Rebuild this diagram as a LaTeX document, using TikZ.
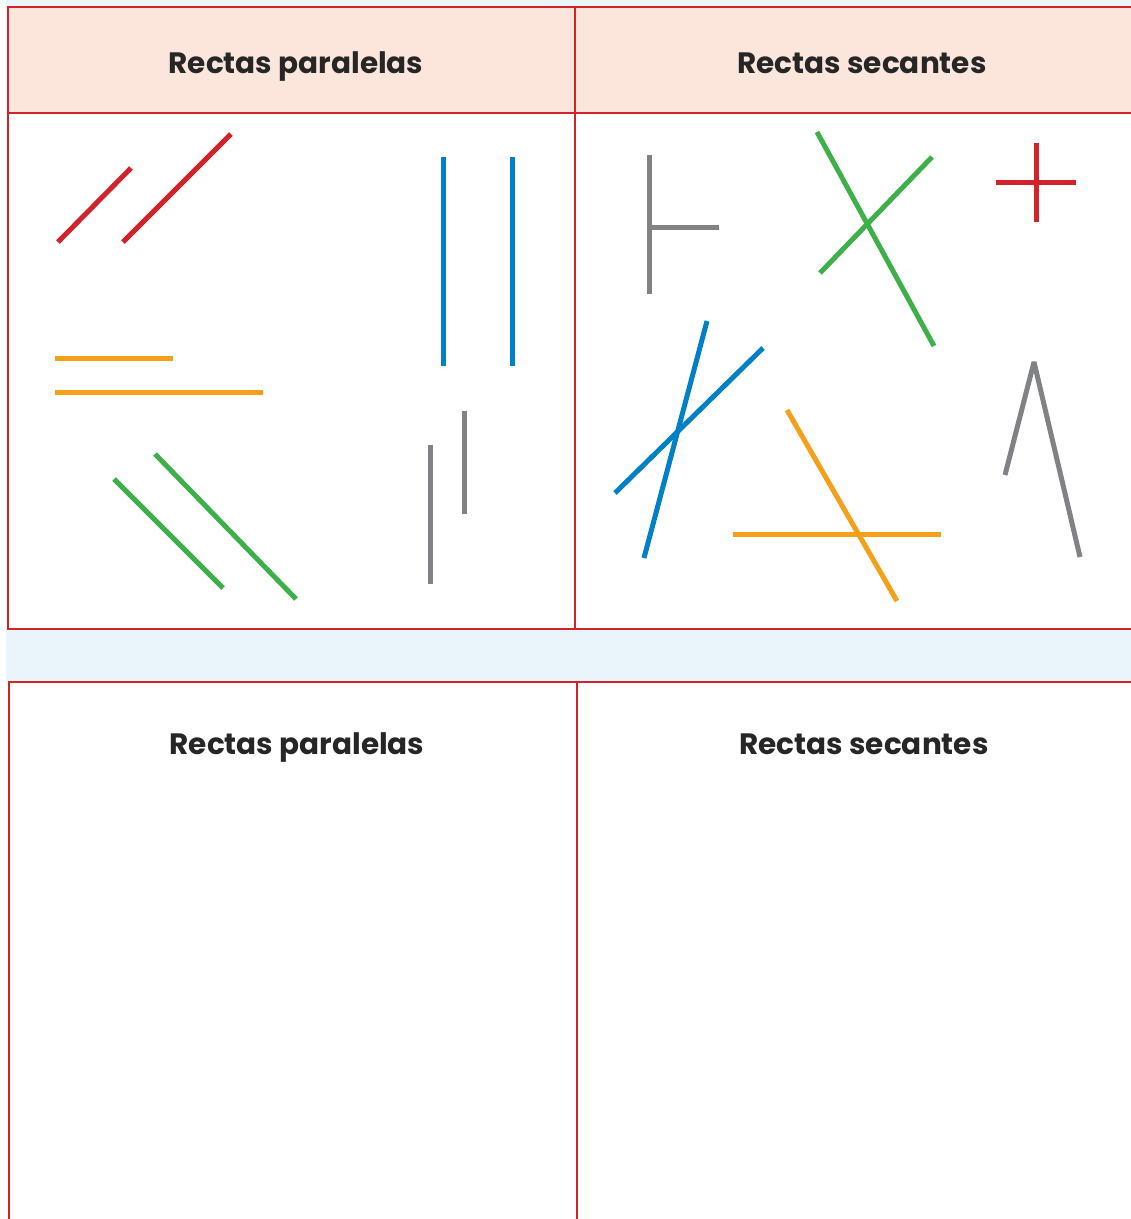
\documentclass[tikz,border=0pt]{standalone}
\usepackage{fontspec}
\setmainfont{Poppins}
\usepackage{tikz}
\usetikzlibrary{positioning}

\definecolor{rojo}{HTML}{D2232A}
\definecolor{naranja}{HTML}{F5A01A}
\definecolor{azul}{HTML}{0080C6}
\definecolor{verde}{HTML}{3EB049}
\definecolor{gris}{HTML}{808285}
\definecolor{cabecera}{HTML}{FCE6DC}
\definecolor{franja}{HTML}{EAF5FB}

\begin{document}
\begin{tikzpicture}[
  x=1pt, y=-1pt,
  borde/.style={draw=rojo, line width=2.5pt},
  titulo/.style={font=\fontsize{29.5}{34}\selectfont\bfseries, text=black!85,
    anchor=base, inner sep=0pt},
  recta/.style={line width=5pt}
]
\useasboundingbox (0,0) rectangle (1131,1219);
% fondos
\fill[franja] (6,0) rectangle (1131,7);
\fill[franja] (6,630) rectangle (1131,682);
\fill[cabecera] (8,7) rectangle (1131,113);

% tabla de arriba
\draw[borde] (1131,7) -- (8,7) -- (8,629) -- (1131,629);
\draw[borde] (8,113) -- (1131,113);
\draw[borde] (575,7) -- (575,629);
\node[titulo] (par1) at (296,73) {Rectas paralelas};
\node[titulo] (sec1) at (862,73) {Rectas secantes};

% tabla de abajo
\draw[borde] (1131,682) -- (9,682) -- (9,1219);
\draw[borde] (577,682) -- (577,1219);
\node[titulo] (par2) at (297,754) {Rectas paralelas};
\node[titulo] (sec2) at (864,754) {Rectas secantes};

% paralelas
\draw[recta, rojo] (58,242) -- (131,168);
\draw[recta, rojo] (123,242) -- (231,134);
\draw[recta, naranja] (55,358) -- (173,358);
\draw[recta, naranja] (55,392) -- (263,392);
\draw[recta, azul] (443,157) -- (443,366);
\draw[recta, azul] (512,157) -- (512,366);
\draw[recta, verde] (114,479) -- (223,588);
\draw[recta, verde] (155,454) -- (296,599);
\draw[recta, gris] (430,445) -- (430,584);
\draw[recta, gris] (464,411) -- (464,514);

% secantes
\draw[recta, gris] (649,155) -- (649,294);
\draw[recta, gris] (649,227) -- (719,227);
\draw[recta, verde] (817,132) -- (934,346);
\draw[recta, verde] (820,273) -- (932,157);
\draw[recta, rojo] (1036,143) -- (1036,222);
\draw[recta, rojo] (996,182) -- (1076,182);
\draw[recta, azul] (707,321) -- (644,558);
\draw[recta, azul] (763,348) -- (615,493);
\draw[recta, naranja] (733,534) -- (941,534);
\draw[recta, naranja] (787,410) -- (897,601);
\draw[recta, gris, line join=bevel] (1005,475) -- (1034,362) -- (1080,557);
\end{tikzpicture}
\end{document}
